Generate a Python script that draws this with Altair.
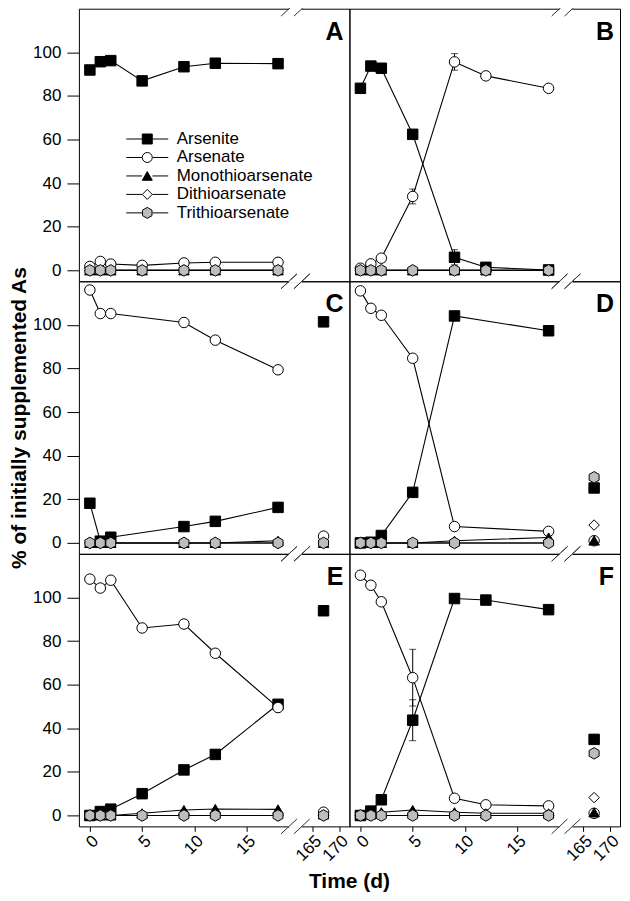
import altair as alt
import pandas as pd

FONT = "Liberation Sans"

SERIES = ["Arsenite", "Arsenate", "Monothioarsenate", "Dithioarsenate", "Trithioarsenate"]
DAYS = [0, 1, 2, 5, 9, 12, 18]
TAIL_DAY = 167
X_TICKS_MAIN = [0, 5, 10, 15]
X_TICKS_TAIL = [165, 170]
Y_TICKS = [0, 20, 40, 60, 80, 100]

A_ARSENITE = [91.9, 95.7, 96.2, 86.9, 93.4, 95.0, 94.8]
A_ARSENATE = [1.8, 4.1, 2.9, 2.3, 3.4, 3.7, 3.7]
A_MONO = [0, 0, 0, 0, 0, 0, 0]
A_DI = [0, 0, 0, 0, 0, 0, 0]
A_TRI = [0, 0, 0, 0, 0, 0, 0]
A_TAIL = [None, None, None, None, None]

B_ARSENITE = [83.5, 93.7, 92.7, 62.4, 6.0, 1.4, 0.2]
B_ARSENATE = [1.0, 3.0, 5.6, 33.9, 95.6, 89.2, 83.5]
B_MONO = [0, 0, 0, 0, 0, 0, 0]
B_DI = [0, 0, 0, 0, 0, 0, 0]
B_TRI = [0, 0, 0, 0, 0, 0, 0]
B_TAIL = [None, None, None, None, None]

C_ARSENITE = [18.2, 0.8, 2.6, None, 7.5, 9.9, 16.3]
C_ARSENATE = [116.0, 105.2, 105.2, None, 101.1, 93.0, 79.4]
C_MONO = [0, 0, 0, None, 0, 0, 1.0]
C_DI = [0, 0, 0, None, 0, 0, 0]
C_TRI = [0, 0, 0, None, 0, 0, 0]
C_TAIL = [101.4, 3.1, 0, 0, 0]

D_ARSENITE = [0, 0.3, 3.4, 23.2, 104.1, None, 97.3]
D_ARSENATE = [115.6, 107.6, 104.4, 84.7, 7.5, None, 5.3]
D_MONO = [0, 0, 0, 0, 1.0, None, 2.5]
D_DI = [0, 0, 0, 0, 0, None, 0]
D_TRI = [0, 0, 0, 0, 0, None, 0]
D_TAIL = [25.2, 1.0, 1.1, 8.2, 30.1]

E_ARSENITE = [0, 1.8, 2.9, 10.0, 20.9, 28.0, 51.0]
E_ARSENATE = [108.4, 104.3, 107.9, 86.0, 87.8, 74.4, 49.5]
E_MONO = [0, 0, 0, 1.0, 2.5, 3.0, 2.8]
E_DI = [0, 0, 0, 0, 0, 0, 0]
E_TRI = [0, 0, 0, 0, 0, 0, 0]
E_TAIL = [93.9, 1.5, 0.5, 0, 0]

F_ARSENITE = [0, 2.0, 7.2, 43.7, 99.5, 98.8, 94.4]
F_ARSENATE = [110.2, 105.6, 98.0, 63.2, 7.9, 4.9, 4.4]
F_MONO = [0, 0.5, 1.5, 2.5, 1.5, 1.0, 1.0]
F_DI = [0, 0, 0, 0, 0, 0, 0]
F_TRI = [0, 0, 0, 0, 0, 0, 0]
F_TAIL = [34.9, 1.0, 1.4, 8.2, 28.5]

# error bars (panel, series, day, +/-)
ERR_PANEL = ["B", "B", "B", "D", "F", "F"]
ERR_SERIES = ["Arsenate", "Arsenate", "Arsenite", "Arsenite", "Arsenate", "Arsenite"]
ERR_DAY = [5, 9, 9, 9, 5, 5]
ERR_SIZE = [3.4, 3.8, 3.5, 2.0, 13.0, 9.4]

PANELS = {
    "A": (1, 1, [A_ARSENITE, A_ARSENATE, A_MONO, A_DI, A_TRI], A_TAIL),
    "B": (1, 2, [B_ARSENITE, B_ARSENATE, B_MONO, B_DI, B_TRI], B_TAIL),
    "C": (2, 1, [C_ARSENITE, C_ARSENATE, C_MONO, C_DI, C_TRI], C_TAIL),
    "D": (2, 2, [D_ARSENITE, D_ARSENATE, D_MONO, D_DI, D_TRI], D_TAIL),
    "E": (3, 1, [E_ARSENITE, E_ARSENATE, E_MONO, E_DI, E_TRI], E_TAIL),
    "F": (3, 2, [F_ARSENITE, F_ARSENATE, F_MONO, F_DI, F_TRI], F_TAIL),
}

# ---- broken x axis geometry (axis units) ----
X_MIN, X_MAX = -1.05, 24.83
U165 = 21.33          # where day 165 sits on the axis
TAIL_SCALE = 0.512    # compression of the tail segment
BREAK_U = [19.05, 20.28]
Y_MIN, Y_MAX = -5, 120

rows = []
for p, (r, c, series_vals, tail) in PANELS.items():
    for si, (s, vals) in enumerate(zip(SERIES, series_vals)):
        for d, v in zip(DAYS, vals):
            if v is not None:
                rows.append(dict(kind="main", panel=p, row=r, col=c, series=s, si=si, day=d, value=v))
    for si, (s, v) in enumerate(zip(SERIES, tail)):
        if v is not None:
            rows.append(dict(kind="tail", panel=p, row=r, col=c, series=s, si=si, day=TAIL_DAY, value=v))
    rows.append(dict(kind="label", panel=p, row=r, col=c))
    for by in (Y_MIN, Y_MAX):
        for bx in BREAK_U:
            rows.append(dict(kind="break", panel=p, row=r, col=c, bx=bx, by=by))
        rows.append(dict(kind="gap", panel=p, row=r, col=c, bx=BREAK_U[0], bx2=BREAK_U[1], by=by))
for p, s, d, e in zip(ERR_PANEL, ERR_SERIES, ERR_DAY, ERR_SIZE):
    r, c, series_vals, _ = PANELS[p]
    v = series_vals[SERIES.index(s)][DAYS.index(d)]
    rows.append(dict(kind="err", panel=p, row=r, col=c, series=s, day=d, value=v, err=e))

df = pd.DataFrame(rows)
df = df.sort_values(["kind", "si"], kind="stable").reset_index(drop=True)

U_EXPR = "datum.day > 100 ? %f + (datum.day - 165) * %f : datum.day" % (U165, TAIL_SCALE)
tick_vals = X_TICKS_MAIN + [U165 + (t - 165) * TAIL_SCALE for t in X_TICKS_TAIL]
label_expr = "datum.value > 20 ? format(165 + (datum.value - %f) / %f, '.0f') : datum.label" % (U165, TAIL_SCALE)

x_scale = alt.Scale(domain=[X_MIN, X_MAX], nice=False, zero=False)
y_scale = alt.Scale(domain=[Y_MIN, Y_MAX], nice=False, zero=False)
x_axis = alt.Axis(values=tick_vals, labelExpr=label_expr, labelAngle=315, labelAlign="right",
                  labelBaseline="top", tickSize=5, domain=False, grid=False, title=None,
                  labelFontSize=17, labelFont=FONT, labelColor="black", tickColor="black",
                  labelPadding=1, labelFlush=False, labelOverlap=False)
y_axis = alt.Axis(values=Y_TICKS, tickSize=12, domain=False, grid=False, title=None,
                  labelFontSize=17, labelFont=FONT, labelColor="black", tickColor="black",
                  labelPadding=6)


def X(f):
    return alt.X(f, type="quantitative", scale=x_scale, axis=x_axis)


def Y(f):
    return alt.Y(f, type="quantitative", scale=y_scale, axis=y_axis)


SHAPES = ["square", "circle", "triangle-up", "diamond",
          "M0,-1.1L0.95,-0.55L0.95,0.55L0,1.1L-0.95,0.55L-0.95,-0.55Z"]
FILLS = ["black", "white", "black", "white", "#bdbdbd"]
STUB_PATH = "M-4.2,0L-1.05,0M1.05,0L4.2,0"

LEG_X, LEG_Y = 60, 122
marker_legend = alt.Legend(title=None, orient="none", legendX=LEG_X, legendY=LEG_Y, labelFont=FONT,
                           labelFontSize=17, labelColor="black", symbolSize=100, labelOffset=21,
                           rowPadding=0.5, padding=0, symbolStrokeWidth=1)
stub_legend = alt.Legend(title=None, orient="none", legendX=LEG_X, legendY=LEG_Y, labelFont=FONT,
                         labelFontSize=17, labelColor="black", labelExpr="' '", symbolSize=100,
                         labelOffset=21, rowPadding=0.5, padding=0, symbolType=STUB_PATH,
                         symbolStrokeColor="black", symbolStrokeWidth=1)

base = alt.Chart()

# line segments; the opacity channel (constant 1) only provides the line stubs of the legend
lines = base.transform_filter("datum.kind == 'main'").transform_calculate(
    u=U_EXPR, line_series="datum.series").mark_line(color="black", strokeWidth=1.1).encode(
    x=X("u"), y=Y("value"),
    opacity=alt.Opacity("line_series:N", scale=alt.Scale(range=[1, 1, 1, 1, 1]), legend=stub_legend),
    order="day:Q")

err = base.transform_filter("datum.kind == 'err'").transform_calculate(
    u=U_EXPR, lo="datum.value - datum.err", hi="datum.value + datum.err")
err_rule = err.mark_rule(color="black", strokeWidth=1).encode(x=X("u"), y=Y("lo"), y2=alt.Y2("hi"))
cap_lo = err.mark_tick(orient="horizontal", size=7, thickness=1, color="black").encode(x=X("u"), y=Y("lo"))
cap_hi = err.mark_tick(orient="horizontal", size=7, thickness=1, color="black").encode(x=X("u"), y=Y("hi"))

gap = base.transform_filter("datum.kind == 'gap'").mark_rule(
    color="white", strokeWidth=3, clip=False).encode(x=X("bx"), x2=alt.X2("bx2"), y=Y("by"))

brk = base.transform_filter("datum.kind == 'break'").transform_calculate(
    x1="datum.bx - 0.76", x2="datum.bx + 0.76", y1="datum.by - 3.4", y2="datum.by + 3.4"
).mark_rule(color="#333333", strokeWidth=1, clip=False).encode(
    x=X("x1"), x2=alt.X2("x2"), y=Y("y1"), y2=alt.Y2("y2"))

pts = base.transform_filter("datum.kind == 'main' || datum.kind == 'tail'").transform_calculate(
    u=U_EXPR).mark_point(filled=False, color="black", strokeWidth=1, size=110, opacity=1).encode(
    x=X("u"), y=Y("value"),
    shape=alt.Shape("series:N", scale=alt.Scale(domain=SERIES, range=SHAPES), legend=marker_legend),
    fill=alt.Fill("series:N", scale=alt.Scale(domain=SERIES, range=FILLS), legend=marker_legend),
)

lab = base.transform_filter("datum.kind == 'label'").mark_text(
    font=FONT, fontSize=25, fontWeight="bold", align="right", baseline="top", color="black"
).encode(x=alt.value(265), y=alt.value(11), text="panel:N")

layered = alt.layer(lines, err_rule, cap_lo, cap_hi, gap, brk, pts, lab, data=df).properties(
    width=271, height=273)

chart = layered.facet(
    row=alt.Row("row:O", title="% of initially supplemented As",
                header=alt.Header(labels=False, labelPadding=0, titleOrient="left", titleFont=FONT,
                                  titleFontSize=21, titleFontWeight="bold", titleColor="black",
                                  titlePadding=-8)),
    column=alt.Column("col:O", title="Time (d)",
                      header=alt.Header(labels=False, labelPadding=0, labelOrient="bottom",
                                        titleOrient="bottom", titleFont=FONT, titleFontSize=21,
                                        titleFontWeight="bold", titleColor="black", titlePadding=-3)),
    spacing=0,
    bounds="flush",
).configure_view(stroke="black", strokeWidth=1).properties(
    padding={"left": 0, "top": -9, "right": 0, "bottom": 0})

chart.save("out.html", embed_options={"renderer": "svg", "actions": False})
